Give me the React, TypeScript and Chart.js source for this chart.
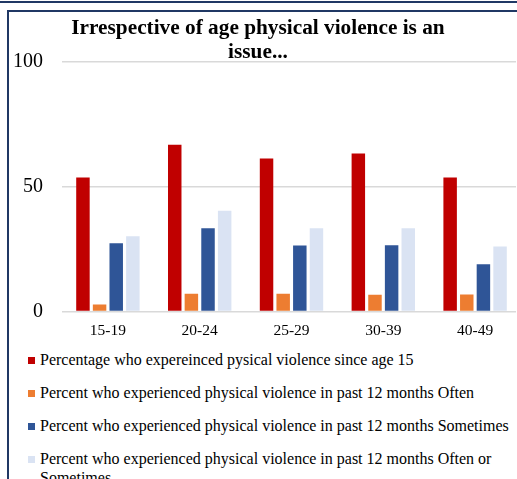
import React, { useEffect, useRef } from "react";
import { Chart, registerables } from "chart.js";

Chart.register(...registerables);

const categories = ["15-19", "20-24", "25-29", "30-39", "40-49"];
const sinceAge15 = [53.7, 66.8, 61.3, 63.3, 53.7];
const past12Often = [2.8, 7.1, 7.1, 6.7, 6.8];
const past12Sometimes = [27.3, 33.3, 26.4, 26.5, 18.9];
const past12OftenOrSometimes = [30.1, 40.4, 33.3, 33.3, 26.0];
const yTicks = [0, 50, 100];

const seriesLabels = [
  "Percentage who expereinced pysical violence since age 15",
  "Percent who experienced physical violence in past 12 months Often",
  "Percent who experienced physical violence in past 12 months Sometimes",
  "Percent who experienced physical violence in past 12 months Often or Sometimes",
];
const seriesColors = ["#C00000", "#ED7D31", "#2F5597", "#DAE3F3"];
const titleLines = ["Irrespective of age physical violence is an", "issue..."];

const FONT = "'Liberation Serif', 'Times New Roman', serif";

export default function App() {
  const ref = useRef<HTMLCanvasElement | null>(null);

  useEffect(() => {
    if (!ref.current) return;
    const seriesData = [sinceAge15, past12Often, past12Sometimes, past12OftenOrSometimes];
    const chart = new Chart(ref.current, {
      type: "bar",
      data: {
        labels: categories,
        datasets: seriesData.map((d, i) => ({
          label: seriesLabels[i],
          data: d,
          backgroundColor: seriesColors[i],
          borderWidth: 0,
          categoryPercentage: 0.725,
          barPercentage: 0.81,
        })),
      },
      options: {
        responsive: false,
        animation: false,
        devicePixelRatio: 1,
        layout: { padding: { left: 0, right: 19, top: 62, bottom: 0 } },
        plugins: {
          legend: { display: false },
          title: { display: false },
          tooltip: { enabled: false },
        },
        scales: {
          x: {
            grid: { display: false, drawTicks: false, drawOnChartArea: false },
            border: { display: false },
            ticks: {
              color: "#000",
              padding: 10,
              font: { family: FONT, size: 15.5 },
              maxRotation: 0,
            },
          },
          y: {
            min: 0,
            max: 100,
            afterBuildTicks: (scale: any) => {
              scale.ticks = yTicks.map((v) => ({ value: v }));
            },
            afterFit: (scale: any) => {
              scale.width = 62;
            },
            grid: { color: "#D9D9D9", lineWidth: 1.5, drawTicks: false },
            border: { display: false },
            ticks: {
              color: "#000",
              padding: 19,
              font: { family: FONT, size: 20 },
            },
          },
        },
      },
    });
    return () => chart.destroy();
  }, []);

  return (
    <div
      style={{
        position: "fixed",
        left: 0,
        top: 0,
        width: 517,
        height: 479,
        overflow: "hidden",
        background: "#fff",
      }}
    >
      <div style={{ position: "absolute", left: 0, top: 1, width: 517, height: 2, background: "#203864" }} />
      <div style={{ position: "absolute", left: 7, top: 10, width: 510, height: 2, background: "#203864" }} />
      <div style={{ position: "absolute", left: 7, top: 10, width: 2, height: 469, background: "#203864" }} />
      <div style={{ position: "absolute", left: 0, top: 0, width: 516, height: 350, overflow: "hidden" }}>
        <canvas
          ref={ref}
          width={540}
          height={350}
          style={{ display: "block", width: 540, height: 350 }}
        />
      </div>
      <div
        style={{
          position: "absolute",
          left: 58,
          width: 400,
          top: 15,
          textAlign: "center",
          fontFamily: FONT,
          fontWeight: "bold",
          fontSize: 21.3,
          lineHeight: "24px",
          color: "#000",
          whiteSpace: "nowrap",
        }}
      >
        {titleLines.map((t, i) => (
          <div key={i}>{t}</div>
        ))}
      </div>
      {seriesLabels.map((lab, i) => (
        <div
          key={i}
          style={{
            position: "absolute",
            left: 28,
            top: 350 + i * 33,
            fontFamily: FONT,
            fontSize: 16,
            lineHeight: "19px",
            color: "#000",
            display: "flex",
            alignItems: "flex-start",
          }}
        >
          <span
            style={{
              display: "inline-block",
              width: 7,
              height: 7,
              background: seriesColors[i],
              marginTop: 7,
              marginRight: 5,
              flex: "none",
            }}
          />
          <span style={{ width: 480 }}>{lab}</span>
        </div>
      ))}
    </div>
  );
}
